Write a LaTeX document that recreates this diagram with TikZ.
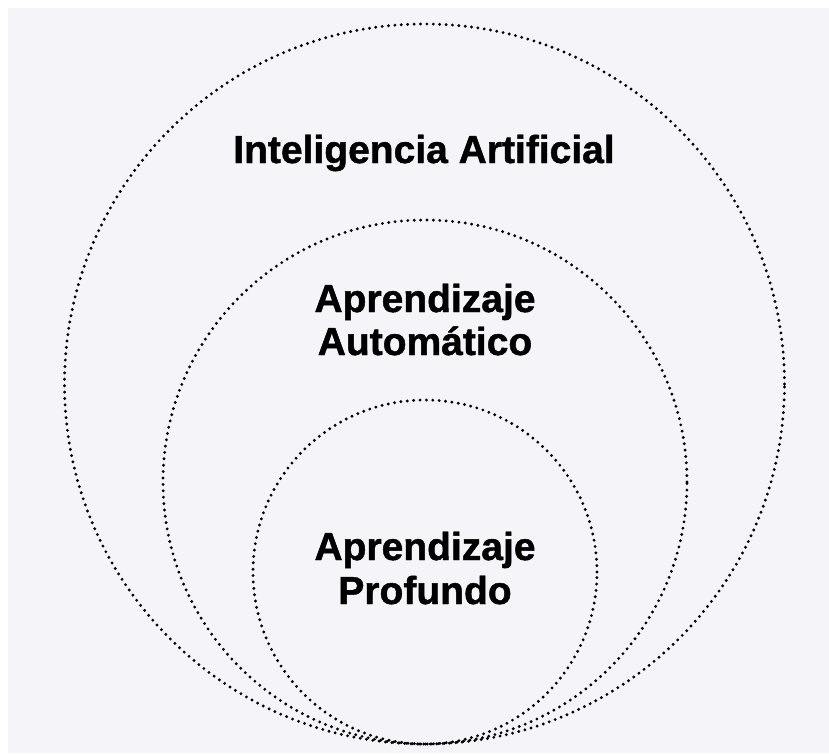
\documentclass[tikz,border=0pt]{standalone}
\usepackage{fontspec}
\setmainfont{Liberation Sans}[BoldFeatures={FakeBold=1.2}]
\definecolor{bggray}{RGB}{245,244,249}
\begin{document}
\begin{tikzpicture}[x=1pt,y=-1pt,
  ring/.style={draw=black,line width=3.2pt,line cap=round,dash pattern=on 0pt off 6.4pt},
  label/.style={font=\bfseries\fontsize{39}{46}\selectfont,anchor=base,inner sep=0pt,text=black}]
\useasboundingbox (0,0) rectangle (829,753);
\fill[white] (0,0) rectangle (829,753);
\fill[bggray] (8,8) rectangle (829,753);
\draw[ring] (424.5,384) circle[radius=360pt];
\draw[ring] (425,482) circle[radius=262pt];
\draw[ring] (425,572) circle[radius=172pt];
\node[label] (ia) at (424,163) {Inteligencia Artificial};
\node[label] (aa1) at (425,312) {Aprendizaje};
\node[label] (aa2) at (425,355) {Automático};
\node[label] (ap1) at (425,560) {Aprendizaje};
\node[label] (ap2) at (425,604) {Profundo};
\end{tikzpicture}
\end{document}
